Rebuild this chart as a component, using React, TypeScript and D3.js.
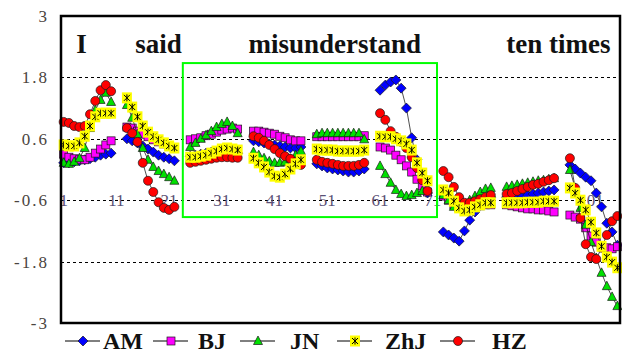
import * as d3 from 'd3'

// 106 categories, 9 word groups of 10 points, two blank cells between groups
const N_POINTS = 106
const Y_TICKS = [3, 1.8, 0.6, -0.6, -1.8, -3]
const GRID_VALUES = [1.8, 0.6, -0.6, -1.8]
const X_TICKS = [1, 11, 21, 31, 41, 51, 61, 71, 81, 91, 101]

const AM = [
  0.13, 0.13, 0.15, 0.17, 0.19, 0.21, 0.24, 0.28, 0.30, 0.32, null, null,
  0.60, 0.56, 0.52, 0.46, 0.40, 0.34, 0.28, 0.24, 0.21, 0.17, null, null,
  0.26, 0.28, 0.30, 0.32, 0.34, 0.34, 0.36, 0.36, 0.34, 0.32, null, null,
  0.56, 0.54, 0.52, 0.50, 0.48, 0.46, 0.44, 0.42, 0.42, 0.44, null, null,
  0.11, 0.07, 0.03, 0.01, -0.01, -0.03, -0.05, -0.05, -0.03, 0.01, null, null,
  1.55, 1.65, 1.71, 1.75, 1.59, 1.20, 0.62, 0.19, -0.17, -0.46, null, null,
  -1.22, -1.28, -1.34, -1.40, -1.20, -0.99, -0.83, -0.70, -0.60, -0.54, null, null,
  -0.54, -0.54, -0.52, -0.52, -0.50, -0.48, -0.46, -0.44, -0.42, -0.40, null, null,
  0.09, 0.01, -0.07, -0.15, -0.22, -0.46, -0.73, -1.05, -1.22, -1.48,
]
const BJ = [
  0.30, 0.24, 0.21, 0.19, 0.19, 0.24, 0.32, 0.40, 0.48, 0.56, null, null,
  0.83, 0.81, 0.75, 0.69, 0.64, 0.58, 0.54, 0.50, 0.46, 0.42, null, null,
  0.58, 0.60, 0.62, 0.66, 0.69, 0.73, 0.77, 0.79, 0.81, 0.79, null, null,
  0.75, 0.75, 0.73, 0.71, 0.69, 0.65, 0.62, 0.58, 0.56, 0.56, null, null,
  0.64, 0.64, 0.64, 0.64, 0.64, 0.64, 0.64, 0.64, 0.64, 0.66, null, null,
  0.44, 0.42, 0.38, 0.28, 0.19, 0.07, -0.05, -0.19, -0.32, -0.44, null, null,
  -0.52, -0.60, -0.69, -0.75, -0.77, -0.75, -0.73, -0.71, -0.69, -0.69, null, null,
  -0.69, -0.71, -0.73, -0.75, -0.77, -0.77, -0.79, -0.79, -0.81, -0.83, null, null,
  -0.89, -0.93, -0.97, -1.14, -1.30, -1.42, -1.50, -1.53, -1.55, -1.51,
]
const JN = [
  0.13, 0.11, 0.15, 0.22, 0.42, 0.81, 1.16, 1.36, 1.50, 1.32, null, null,
  1.26, 1.01, 0.69, 0.42, 0.19, 0.05, -0.03, -0.09, -0.15, -0.22, null, null,
  0.44, 0.52, 0.60, 0.67, 0.75, 0.83, 0.89, 0.93, 0.85, 0.71, null, null,
  0.34, 0.28, 0.22, 0.16, 0.13, 0.13, 0.15, 0.21, 0.28, 0.36, null, null,
  0.69, 0.71, 0.71, 0.71, 0.71, 0.71, 0.71, 0.71, 0.71, 0.59, null, null,
  0.07, -0.09, -0.26, -0.40, -0.48, -0.52, -0.50, -0.46, -0.42, -0.38, null, null,
  -0.50, -0.60, -0.73, -0.75, -0.69, -0.60, -0.52, -0.44, -0.38, -0.36, null, null,
  -0.34, -0.32, -0.30, -0.28, -0.26, -0.24, -0.22, -0.21, -0.19, -0.17, null, null,
  -0.01, -0.36, -0.75, -1.08, -1.42, -1.73, -2.02, -2.28, -2.49, -2.67,
]
const ZHJ = [
  0.48, 0.46, 0.46, 0.52, 0.65, 0.85, 1.03, 1.10, 1.10, 1.10, null, null,
  1.40, 1.22, 1.03, 0.85, 0.73, 0.64, 0.58, 0.52, 0.46, 0.42, null, null,
  0.24, 0.24, 0.26, 0.28, 0.32, 0.36, 0.40, 0.42, 0.40, 0.38, null, null,
  0.22, 0.13, 0.05, -0.05, -0.13, -0.15, -0.09, 0.01, 0.11, 0.19, null, null,
  0.40, 0.38, 0.38, 0.38, 0.36, 0.36, 0.36, 0.36, 0.36, 0.38, null, null,
  0.65, 0.64, 0.64, 0.60, 0.56, 0.50, 0.38, 0.13, -0.07, -0.22, null, null,
  -0.40, -0.46, -0.62, -0.75, -0.81, -0.79, -0.73, -0.69, -0.65, -0.65, null, null,
  -0.65, -0.65, -0.65, -0.65, -0.64, -0.64, -0.64, -0.62, -0.62, -0.62, null, null,
  -0.36, -0.46, -0.60, -0.79, -1.03, -1.24, -1.50, -1.71, -1.81, -1.92,
]
const HZ = [
  0.93, 0.91, 0.85, 0.83, 0.85, 1.08, 1.34, 1.55, 1.65, 1.53, null, null,
  0.81, 0.71, 0.54, 0.13, -0.22, -0.44, -0.64, -0.75, -0.79, -0.73, null, null,
  0.13, 0.15, 0.17, 0.19, 0.21, 0.23, 0.24, 0.24, 0.23, 0.23, null, null,
  0.65, 0.62, 0.56, 0.48, 0.40, 0.32, 0.26, 0.21, 0.15, 0.09, null, null,
  0.19, 0.15, 0.13, 0.11, 0.09, 0.07, 0.07, 0.07, 0.09, 0.13, null, null,
  1.10, 0.97, 0.75, 0.64, 0.54, 0.42, 0.24, 0.03, -0.21, -0.42, null, null,
  -0.03, -0.15, -0.34, -0.54, -0.65, -0.65, -0.62, -0.58, -0.54, -0.50, null, null,
  -0.48, -0.46, -0.42, -0.38, -0.34, -0.30, -0.28, -0.24, -0.21, -0.17, null, null,
  0.22, -0.36, -0.95, -1.46, -1.71, -1.75, -1.53, -1.28, -1.01, -0.91,
]

// words written over the chart, placed in category / value units
const WORDS = [
  { text: 'I', cat: 4.4, value: 2.28 },
  { text: 'said', cat: 19.0, value: 2.28 },
  { text: 'misunderstand', cat: 52.4, value: 2.28 },
  { text: 'ten times', cat: 94.8, value: 2.28 },
]
// green highlight box (categories / values)
const BOX = { cat0: 23.6, cat1: 71.8, top: 2.08, bottom: -0.93 }

type MarkerKind = 'diamond' | 'square' | 'triangle' | 'star' | 'circle'

const SERIES: { name: string; values: (number | null)[]; color: string; marker: MarkerKind }[] = [
  { name: 'AM', values: AM, color: '#0000ff', marker: 'diamond' },
  { name: 'BJ', values: BJ, color: '#ff00ff', marker: 'square' },
  { name: 'JN', values: JN, color: '#00e000', marker: 'triangle' },
  { name: 'ZhJ', values: ZHJ, color: '#ffff00', marker: 'star' },
  { name: 'HZ', values: HZ, color: '#ff0000', marker: 'circle' },
]
// yellow stars sit over the red circles in the picture
const DRAW_ORDER = ['AM', 'BJ', 'JN', 'HZ', 'ZhJ']

// legend layout
const LEGEND_X = [65, 153, 240, 337, 440]
const LEGEND_TEXT_DX = [38, 45, 50, 48, 52]

function Marker({ kind, color, cx, cy }: { kind: MarkerKind; color: string; cx: number; cy: number }) {
  const stroke = '#1a1a1a'
  if (kind === 'diamond')
    return <path d={`M${cx},${cy - 5}L${cx + 5},${cy}L${cx},${cy + 5}L${cx - 5},${cy}Z`} fill={color} stroke={stroke} strokeWidth={0.7} />
  if (kind === 'square')
    return <rect x={cx - 4} y={cy - 4} width={8} height={8} fill={color} stroke={stroke} strokeWidth={0.7} />
  if (kind === 'triangle')
    return <path d={`M${cx},${cy - 5}L${cx + 4.5},${cy + 3.5}L${cx - 4.5},${cy + 3.5}Z`} fill={color} stroke={stroke} strokeWidth={0.7} />
  if (kind === 'circle')
    return <circle cx={cx} cy={cy} r={4.5} fill={color} stroke={stroke} strokeWidth={0.7} />
  // star: yellow box with black asterisk
  return (
    <g>
      <rect x={cx - 5} y={cy - 5.5} width={10} height={11} fill={color} />
      <path
        d={`M${cx - 3},${cy - 3}L${cx + 3},${cy + 3}M${cx - 3},${cy + 3}L${cx + 3},${cy - 3}M${cx},${cy - 3.5}L${cx},${cy + 3.5}`}
        stroke="#000"
        strokeWidth={1}
      />
    </g>
  )
}

export default function App() {
  const width = 622
  const height = 354
  const plot = { left: 61, right: 620, top: 16, bottom: 323 }

  const x = d3.scaleLinear().domain([0.5, N_POINTS + 0.5]).range([plot.left, plot.right])
  const y = d3.scaleLinear().domain([-3, 3]).range([plot.bottom, plot.top])

  const line = d3
    .line<number | null>()
    .defined(v => v != null)
    .x((_, i) => x(i + 1))
    .y(v => y(v as number))

  const serif = '"Liberation Serif", "Times New Roman", serif'
  const drawn = DRAW_ORDER.map(n => SERIES.find(s => s.name === n)!)

  return (
    <svg width={width} height={height} style={{ position: 'absolute', left: 0, top: 0, background: '#fff' }}>
      {/* dashed gridlines */}
      {GRID_VALUES.map(v => (
        <line
          key={v}
          x1={plot.left}
          x2={plot.right}
          y1={Math.round(y(v)) + 0.5}
          y2={Math.round(y(v)) + 0.5}
          stroke="#000"
          strokeWidth={1}
          strokeDasharray="3,3"
        />
      ))}

      {/* y tick labels */}
      {Y_TICKS.map(v => (
        <text
          key={v}
          x={49}
          y={y(v)}
          dy="0.35em"
          textAnchor="end"
          fontFamily={serif}
          fontSize={17}
          letterSpacing={2}
          fill="#4a4440"
        >
          {String(v)}
        </text>
      ))}

      {/* category labels sit on the -0.6 line */}
      {X_TICKS.map(c => (
        <text
          key={c}
          x={x(c)}
          y={y(-0.6)}
          dy="0.35em"
          textAnchor="middle"
          fontFamily={serif}
          fontSize={17}
          fill="#5a5075"
        >
          {c}
        </text>
      ))}

      {/* green box */}
      <rect
        x={x(BOX.cat0)}
        y={y(BOX.top)}
        width={x(BOX.cat1) - x(BOX.cat0)}
        height={y(BOX.bottom) - y(BOX.top)}
        fill="none"
        stroke="#00ff00"
        strokeWidth={2}
      />

      {/* series */}
      {drawn.map(s => (
        <g key={s.name}>
          <path d={line(s.values) ?? ''} fill="none" stroke="#222" strokeWidth={0.8} />
          {s.values.map((v, i) =>
            v == null ? null : <Marker key={i} kind={s.marker} color={s.color} cx={x(i + 1)} cy={y(v)} />
          )}
        </g>
      ))}

      {/* words */}
      {WORDS.map(w => (
        <text
          key={w.text}
          x={x(w.cat)}
          y={y(w.value)}
          textAnchor="middle"
          fontFamily={serif}
          fontWeight="bold"
          fontSize={27}
          fill="#111"
        >
          {w.text}
        </text>
      ))}

      {/* plot frame */}
      <rect
        x={plot.left}
        y={plot.top}
        width={plot.right - plot.left}
        height={plot.bottom - plot.top}
        fill="none"
        stroke="#000"
        strokeWidth={2.5}
      />

      {/* legend */}
      {SERIES.map((s, i) => {
        const lx = LEGEND_X[i]
        const ly = 341
        return (
          <g key={s.name}>
            <line x1={lx} x2={lx + 35} y1={ly} y2={ly} stroke="#000" strokeWidth={1} />
            <Marker kind={s.marker} color={s.color} cx={lx + 18} cy={ly} />
            <text
              x={lx + LEGEND_TEXT_DX[i]}
              y={ly + 8}
              fontFamily={serif}
              fontWeight="bold"
              fontSize={24}
              fill="#111"
            >
              {s.name}
            </text>
          </g>
        )
      })}
    </svg>
  )
}
